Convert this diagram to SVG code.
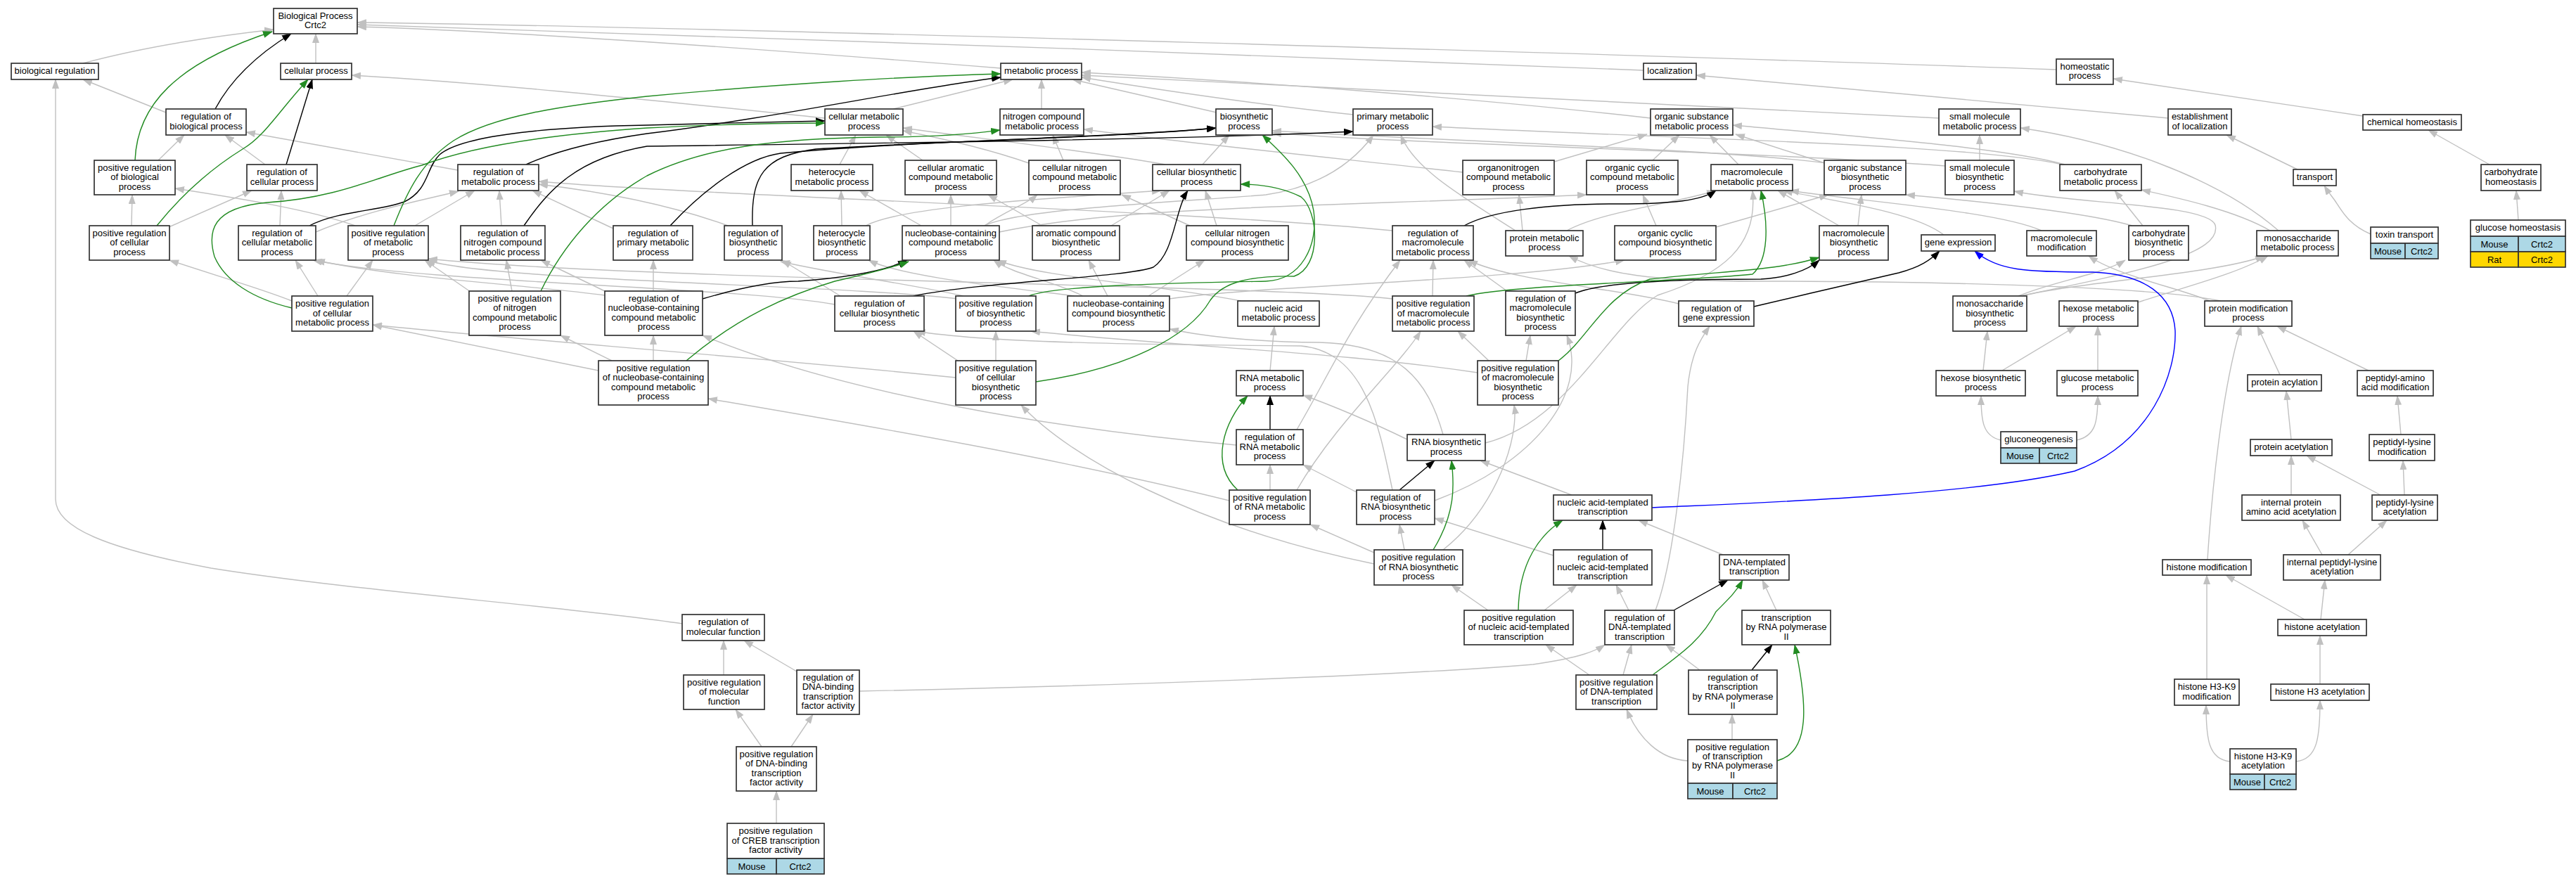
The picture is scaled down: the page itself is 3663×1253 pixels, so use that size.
<svg xmlns="http://www.w3.org/2000/svg" width="3663" height="1253" viewBox="0 0 3663 1253">
<style>
.bg{fill:#fff}
.n rect{fill:#fff;stroke:#333;stroke-width:1.7}
.n rect.mo{fill:#add8e6}
.n rect.rt{fill:#ffd700}
.n text{font-family:"Liberation Sans",Arial,sans-serif;font-size:13px;text-anchor:middle;fill:#000}
.e path{fill:none;stroke:#c0c0c0;stroke-width:1.4;marker-end:url(#ag)}
.e path.k{stroke:#000;marker-end:url(#ak)}
.e path.g{stroke:#228b22;marker-end:url(#agr)}
.e path.b{stroke:#0000ff;marker-end:url(#ab)}
</style>
<defs>
<marker id="ag" viewBox="0 0 14 10" refX="13" refY="5" markerWidth="14" markerHeight="10" markerUnits="userSpaceOnUse" orient="auto"><path d="M0,0L14,5L0,10z" fill="#c0c0c0"/></marker>
<marker id="ak" viewBox="0 0 14 10" refX="13" refY="5" markerWidth="14" markerHeight="10" markerUnits="userSpaceOnUse" orient="auto"><path d="M0,0L14,5L0,10z" fill="#000"/></marker>
<marker id="agr" viewBox="0 0 14 10" refX="13" refY="5" markerWidth="14" markerHeight="10" markerUnits="userSpaceOnUse" orient="auto"><path d="M0,0L14,5L0,10z" fill="#228b22"/></marker>
<marker id="ab" viewBox="0 0 14 10" refX="13" refY="5" markerWidth="14" markerHeight="10" markerUnits="userSpaceOnUse" orient="auto"><path d="M0,0L14,5L0,10z" fill="#0000ff"/></marker>
</defs>
<rect class="bg" x="0" y="0" width="3663" height="1253"/>
<g id="connectors" class="e">
<path d="M118,90 C200,68 300,52 389,42"/>
<path d="M449,90 L449,48"/>
<path d="M1423,97 C1150,75 750,45 508,38"/>
<path d="M2337,100 C1800,78 900,47 508,35"/>
<path d="M2924,99 C2400,80 1000,38 508,32"/>
<path d="M1173,168 C950,145 700,118 500,107"/>
<path d="M236,160 L118,113"/>
<path d="M970,887 C800,862 500,840 300,808 C150,780 79,750 79,710 L79,113"/>
<path d="M225,228 L262,192"/>
<path d="M377,234 L320,192"/>
<path d="M651,242 L350,188"/>
<path d="M187,321 L188,277"/>
<path d="M505,321 C440,298 340,282 249,268"/>
<path d="M240,323 L358,271"/>
<path d="M398,321 L400,271"/>
<path d="M449,330 C520,300 600,285 652,272"/>
<path d="M590,321 L675,271"/>
<path d="M713,321 L710,271"/>
<path d="M872,325 L757,271"/>
<path d="M1035,321 C950,290 850,272 766,262"/>
<path d="M1980,328 C1700,300 1000,278 766,258"/>
<path d="M1194,234 L1217,192"/>
<path d="M1312,228 L1260,192"/>
<path d="M1463,232 C1400,210 1330,195 1284,186"/>
<path d="M1657,234 C1550,215 1400,198 1284,182"/>
<path d="M1270,155 L1440,113"/>
<path d="M1481,155 L1481,113"/>
<path d="M1730,160 L1525,113"/>
<path d="M1512,228 L1497,192"/>
<path d="M2080,245 C1900,225 1700,205 1541,184"/>
<path d="M1710,234 L1748,192"/>
<path d="M2596,232 C2450,212 2000,198 1809,186"/>
<path d="M2766,236 C2500,215 2000,205 1809,189"/>
<path d="M1400,321 C1450,296 1700,286 1800,277 C1880,265 1925,230 1953,192"/>
<path d="M2155,328 C2080,280 2010,240 1992,192"/>
<path d="M1924,163 C1800,150 1650,128 1538,110"/>
<path d="M2347,168 C2100,140 1800,117 1538,103"/>
<path d="M2757,168 C2400,150 2000,130 1538,107"/>
<path d="M3083,168 C2900,150 2600,125 2412,107"/>
<path d="M2933,234 C2800,205 2400,198 2037,180"/>
<path d="M2936,234 C2850,210 2650,195 2464,178"/>
<path d="M2210,230 L2342,191"/>
<path d="M2350,228 L2388,192"/>
<path d="M2472,234 L2431,192"/>
<path d="M2595,232 L2468,191"/>
<path d="M2815,228 L2815,192"/>
<path d="M3047,321 L3007,271"/>
<path d="M3228,328 C3180,300 3100,282 3045,270"/>
<path d="M3240,328 C3150,250 3000,200 2873,182"/>
<path d="M2872,421 C3050,385 3160,360 3150,320 C3140,290 2950,290 2864,272"/>
<path d="M2870,421 C2920,400 2990,390 3022,370"/>
<path d="M2875,421 C2960,400 3150,390 3220,364"/>
<path d="M3040,430 C3100,410 3180,390 3225,364"/>
<path d="M3032,321 C2960,300 2800,285 2710,277"/>
<path d="M2764,334 C2720,300 2600,285 2536,271"/>
<path d="M2903,328 C2840,300 2650,287 2545,271"/>
<path d="M2615,321 L2528,271"/>
<path d="M2642,321 L2647,277"/>
<path d="M2440,323 L2600,277"/>
<path d="M2355,321 L2336,277"/>
<path d="M1421,330 C1600,292 1900,294 2256,277"/>
<path d="M3142,428 C3100,410 3010,392 2970,364"/>
<path d="M3158,428 C3050,405 2700,400 2500,400 C2350,400 2280,390 2231,364"/>
<path d="M2165,328 L2160,277"/>
<path d="M2228,328 C2280,300 2380,290 2440,271"/>
<path d="M3360,165 L3005,112"/>
<path d="M3540,234 L3453,185"/>
<path d="M3581,313 L3578,271"/>
<path d="M3371,333 C3340,320 3330,300 3320,285 C3315,278 3310,272 3305,264"/>
<path d="M3267,241 L3166,192"/>
<path d="M415,428 C370,410 300,390 241,370"/>
<path d="M452,421 L420,370"/>
<path d="M493,421 L530,370"/>
<path d="M669,415 L604,370"/>
<path d="M728,414 L720,370"/>
<path d="M862,415 L769,370"/>
<path d="M929,414 L929,370"/>
<path d="M860,420 C750,405 560,395 449,370"/>
<path d="M1187,433 C1050,408 600,402 445,370"/>
<path d="M1362,425 C1200,405 700,400 606,370"/>
<path d="M1980,425 C1800,405 900,398 609,368"/>
<path d="M1195,421 L1112,370"/>
<path d="M1370,421 C1300,405 1200,392 1110,372"/>
<path d="M1540,421 C1500,400 1440,390 1413,370"/>
<path d="M1765,428 C1650,405 1480,395 1418,370"/>
<path d="M1528,421 C1400,405 1280,392 1235,370"/>
<path d="M1575,421 L1548,370"/>
<path d="M1633,421 L1713,370"/>
<path d="M1663,425 C1800,405 2150,400 2310,370"/>
<path d="M1197,321 L1196,271"/>
<path d="M1310,321 L1222,271"/>
<path d="M1352,321 L1352,277"/>
<path d="M1400,321 C1430,300 1460,290 1475,277"/>
<path d="M1482,321 L1405,277"/>
<path d="M1692,321 L1595,277"/>
<path d="M1231,321 C1280,295 1450,285 1651,271"/>
<path d="M1580,321 L1663,271"/>
<path d="M1730,321 L1714,271"/>
<path d="M1362,513 L1299,471"/>
<path d="M1416,513 L1416,471"/>
<path d="M1359,537 C1100,510 700,480 530,462"/>
<path d="M851,527 L530,462"/>
<path d="M929,513 L929,477"/>
<path d="M870,513 L797,477"/>
<path d="M1758,633 C1500,610 1200,560 999,477"/>
<path d="M1748,712 C1500,650 1200,600 1007,567"/>
<path d="M2101,530 C1900,500 1700,495 1466,471"/>
<path d="M2052,618 C2030,540 1990,490 1876,487 C1800,487 1720,480 1663,468"/>
<path d="M2001,625 C1950,600 1890,575 1853,562"/>
<path d="M1806,527 L1812,464"/>
<path d="M1806,697 L1806,661"/>
<path d="M1954,802 C1700,750 1520,650 1452,576"/>
<path d="M1844,697 C1900,600 1990,520 2020,471"/>
<path d="M2117,513 L2073,471"/>
<path d="M2037,421 L2038,370"/>
<path d="M1844,611 C1890,533 1917,467 1991,370"/>
<path d="M1980,697 C1960,600 1940,500 1850,492 C1600,490 1400,487 1303,471"/>
<path d="M2143,414 L2082,370"/>
<path d="M2387,432 C2300,410 2150,400 2088,370"/>
<path d="M2170,513 L2176,477"/>
<path d="M2040,712 C2180,660 2260,560 2228,477"/>
<path d="M2052,782 C2130,720 2160,620 2153,576"/>
<path d="M1997,782 L1990,746"/>
<path d="M1929,700 L1853,661"/>
<path d="M1954,786 L1863,746"/>
<path d="M2235,704 L2105,655"/>
<path d="M2112,630 C2230,600 2290,460 2357,420 C2450,390 2500,350 2492,271"/>
<path d="M2450,789 L2330,740"/>
<path d="M2209,790 L2040,737"/>
<path d="M2116,868 L2064,832"/>
<path d="M2196,868 L2242,832"/>
<path d="M2316,868 L2298,832"/>
<path d="M2526,868 L2506,825"/>
<path d="M2354,868 C2380,800 2395,650 2400,550 C2405,500 2420,480 2431,464"/>
<path d="M2260,960 L2198,917"/>
<path d="M2308,960 L2320,917"/>
<path d="M2417,953 L2369,917"/>
<path d="M2463,1052 L2463,1016"/>
<path d="M2400,1082 C2360,1080 2330,1050 2313,1009"/>
<path d="M1222,983 C1600,975 2000,960 2180,945 C2250,935 2270,925 2282,917"/>
<path d="M1029,960 L1029,911"/>
<path d="M1133,955 L1058,911"/>
<path d="M1083,1062 L1046,1009"/>
<path d="M1125,1062 L1156,1016"/>
<path d="M1104,1171 L1104,1125"/>
<path d="M2820,527 L2826,471"/>
<path d="M2847,527 L2952,464"/>
<path d="M2983,527 L2983,464"/>
<path d="M2845,626 C2820,620 2817,600 2817,563"/>
<path d="M2953,626 C2980,620 2983,600 2983,563"/>
<path d="M3242,533 L3210,464"/>
<path d="M3368,527 L3238,464"/>
<path d="M3139,796 C3145,700 3160,550 3187,464"/>
<path d="M3258,625 L3251,556"/>
<path d="M3414,618 L3409,563"/>
<path d="M3258,704 L3258,648"/>
<path d="M3385,704 L3280,648"/>
<path d="M3419,704 L3417,655"/>
<path d="M3302,789 L3274,740"/>
<path d="M3339,789 L3394,740"/>
<path d="M3277,881 L3165,818"/>
<path d="M3300,881 L3306,825"/>
<path d="M3138,966 L3138,818"/>
<path d="M3299,973 L3299,904"/>
<path d="M3171,1083 C3140,1080 3137,1050 3137,1003"/>
<path d="M3265,1083 C3295,1080 3299,1050 3299,996"/>
<path class="k" d="M306,155 C330,110 370,75 414,48"/>
<path class="k" d="M407,234 L444,113"/>
<path class="k" d="M440,321 C480,300 540,300 575,287 C610,270 605,240 625,220 C660,190 800,180 920,178 C1000,176 1100,173 1173,172"/>
<path class="k" d="M748,234 C790,215 850,200 920,190 C1100,168 1300,125 1423,110"/>
<path class="k" d="M745,321 C780,270 820,225 920,208 C1300,203 1700,198 1924,187"/>
<path class="k" d="M953,321 C1000,270 1060,225 1110,218 C1300,200 1600,195 1729,182"/>
<path class="k" d="M1070,321 C1068,250 1085,222 1160,212 C1350,200 1600,195 1729,182"/>
<path class="k" d="M999,425 C1050,410 1100,400 1135,400 C1200,395 1260,385 1290,370"/>
<path class="k" d="M1299,421 C1400,400 1600,395 1640,380 C1670,360 1670,300 1689,271"/>
<path class="k" d="M2082,321 C2120,300 2200,290 2300,290 C2380,290 2420,285 2440,271"/>
<path class="k" d="M2240,417 C2280,400 2400,397 2504,397 C2540,395 2570,385 2587,370"/>
<path class="k" d="M2494,436 C2560,420 2650,400 2700,388 C2730,380 2745,370 2758,357"/>
<path class="k" d="M1806,611 L1806,563"/>
<path class="k" d="M1990,697 L2040,655"/>
<path class="k" d="M2279,782 L2279,740"/>
<path class="k" d="M2380,868 L2457,825"/>
<path class="k" d="M2491,953 L2520,917"/>
<path class="g" d="M192,228 C195,150 250,90 387,45"/>
<path class="g" d="M223,321 C260,275 300,240 345,212 C375,195 395,160 438,113"/>
<path class="g" d="M415,438 C360,425 320,400 305,365 C295,330 300,295 380,288 C480,282 540,250 600,235 C680,205 800,190 920,182 C1000,178 1100,175 1173,175"/>
<path class="g" d="M560,321 C580,270 600,230 645,200 C700,165 800,150 920,137 C1100,120 1300,108 1423,105"/>
<path class="g" d="M769,414 C800,350 850,290 920,250 C1000,210 1100,197 1250,195 C1350,195 1400,188 1422,185"/>
<path class="g" d="M976,513 C1050,450 1120,420 1187,400 C1230,390 1270,380 1292,372"/>
<path class="g" d="M1463,421 C1500,405 1700,402 1800,400 C1850,398 1875,350 1868,300 C1860,250 1820,215 1795,192"/>
<path class="g" d="M1473,543 C1600,525 1690,480 1721,427 C1740,400 1780,392 1840,393 C1880,380 1875,300 1850,280 C1820,265 1790,262 1764,262"/>
<path class="g" d="M2085,421 C2150,405 2400,400 2492,390 C2515,370 2515,320 2504,271"/>
<path class="g" d="M2216,513 C2260,480 2280,420 2346,397 C2450,385 2530,385 2587,366"/>
<path class="g" d="M1760,697 C1720,660 1740,600 1774,563"/>
<path class="g" d="M2038,782 C2070,730 2068,690 2064,655"/>
<path class="g" d="M2159,868 C2160,800 2190,760 2222,740"/>
<path class="g" d="M2350,960 C2390,930 2420,910 2440,870 C2460,850 2470,840 2478,825"/>
<path class="g" d="M2527,1082 C2575,1070 2570,1000 2552,917"/>
<path class="b" d="M2349,722 C2500,715 2800,705 2950,670 C3060,630 3095,530 3093,470 C3090,420 3050,390 2976,387 C2880,387 2840,385 2808,357"/>
</g>
<g id="nodes" class="n">
<g id="n-BP"><rect x="389" y="12" width="119" height="36"/><text><tspan x="448.5" y="26.9">Biological Process</tspan><tspan x="448.5" y="40.3">Crtc2</tspan></text></g>
<g id="n-BR"><rect x="16" y="90" width="124" height="23"/><text x="78" y="105.1">biological regulation</text></g>
<g id="n-CP"><rect x="399" y="90" width="101" height="23"/><text x="449.5" y="105.1">cellular process</text></g>
<g id="n-MP"><rect x="1423" y="90" width="115" height="23"/><text x="1480.5" y="105.1">metabolic process</text></g>
<g id="n-LOC"><rect x="2337" y="90" width="75" height="23"/><text x="2374.5" y="105.1">localization</text></g>
<g id="n-HP"><rect x="2924" y="84" width="81" height="36"/><text><tspan x="2964.5" y="98.9">homeostatic</tspan><tspan x="2964.5" y="112.3">process</tspan></text></g>
<g id="n-RBP"><rect x="236" y="155" width="114" height="37"/><text><tspan x="293" y="170.4">regulation of</tspan><tspan x="293" y="183.8">biological process</tspan></text></g>
<g id="n-CMP"><rect x="1173" y="155" width="111" height="37"/><text><tspan x="1228.5" y="170.4">cellular metabolic</tspan><tspan x="1228.5" y="183.8">process</tspan></text></g>
<g id="n-NCMP"><rect x="1422" y="155" width="119" height="37"/><text><tspan x="1481.5" y="170.4">nitrogen compound</tspan><tspan x="1481.5" y="183.8">metabolic process</tspan></text></g>
<g id="n-BSP"><rect x="1729" y="155" width="80" height="37"/><text><tspan x="1769" y="170.4">biosynthetic</tspan><tspan x="1769" y="183.8">process</tspan></text></g>
<g id="n-PMP"><rect x="1924" y="155" width="113" height="37"/><text><tspan x="1980.5" y="170.4">primary metabolic</tspan><tspan x="1980.5" y="183.8">process</tspan></text></g>
<g id="n-OSMP"><rect x="2347" y="155" width="117" height="37"/><text><tspan x="2405.5" y="170.4">organic substance</tspan><tspan x="2405.5" y="183.8">metabolic process</tspan></text></g>
<g id="n-SMMP"><rect x="2757" y="155" width="116" height="37"/><text><tspan x="2815" y="170.4">small molecule</tspan><tspan x="2815" y="183.8">metabolic process</tspan></text></g>
<g id="n-EOL"><rect x="3083" y="155" width="90" height="37"/><text><tspan x="3128" y="170.4">establishment</tspan><tspan x="3128" y="183.8">of localization</tspan></text></g>
<g id="n-CH"><rect x="3360" y="163" width="140" height="22"/><text x="3430" y="177.6">chemical homeostasis</text></g>
<g id="n-PRBP"><rect x="134" y="228" width="115" height="49"/><text><tspan x="191.5" y="242.7">positive regulation</tspan><tspan x="191.5" y="256.1">of biological</tspan><tspan x="191.5" y="269.5">process</tspan></text></g>
<g id="n-RCP"><rect x="351" y="234" width="100" height="37"/><text><tspan x="401" y="249.4">regulation of</tspan><tspan x="401" y="262.8">cellular process</tspan></text></g>
<g id="n-RMP"><rect x="651" y="234" width="115" height="37"/><text><tspan x="708.5" y="249.4">regulation of</tspan><tspan x="708.5" y="262.8">metabolic process</tspan></text></g>
<g id="n-HMP"><rect x="1125" y="234" width="116" height="37"/><text><tspan x="1183" y="249.4">heterocycle</tspan><tspan x="1183" y="262.8">metabolic process</tspan></text></g>
<g id="n-CACMP"><rect x="1287" y="228" width="130" height="49"/><text><tspan x="1352" y="242.7">cellular aromatic</tspan><tspan x="1352" y="256.1">compound metabolic</tspan><tspan x="1352" y="269.5">process</tspan></text></g>
<g id="n-CNCMP"><rect x="1463" y="228" width="130" height="49"/><text><tspan x="1528" y="242.7">cellular nitrogen</tspan><tspan x="1528" y="256.1">compound metabolic</tspan><tspan x="1528" y="269.5">process</tspan></text></g>
<g id="n-CBP"><rect x="1639" y="234" width="125" height="37"/><text><tspan x="1701.5" y="249.4">cellular biosynthetic</tspan><tspan x="1701.5" y="262.8">process</tspan></text></g>
<g id="n-ONCMP"><rect x="2080" y="228" width="130" height="49"/><text><tspan x="2145" y="242.7">organonitrogen</tspan><tspan x="2145" y="256.1">compound metabolic</tspan><tspan x="2145" y="269.5">process</tspan></text></g>
<g id="n-OCCMP"><rect x="2256" y="228" width="130" height="49"/><text><tspan x="2321" y="242.7">organic cyclic</tspan><tspan x="2321" y="256.1">compound metabolic</tspan><tspan x="2321" y="269.5">process</tspan></text></g>
<g id="n-MMP"><rect x="2433" y="234" width="116" height="37"/><text><tspan x="2491" y="249.4">macromolecule</tspan><tspan x="2491" y="262.8">metabolic process</tspan></text></g>
<g id="n-OSBP"><rect x="2594" y="228" width="116" height="49"/><text><tspan x="2652" y="242.7">organic substance</tspan><tspan x="2652" y="256.1">biosynthetic</tspan><tspan x="2652" y="269.5">process</tspan></text></g>
<g id="n-SMBP"><rect x="2766" y="228" width="98" height="49"/><text><tspan x="2815" y="242.7">small molecule</tspan><tspan x="2815" y="256.1">biosynthetic</tspan><tspan x="2815" y="269.5">process</tspan></text></g>
<g id="n-CHMP"><rect x="2929" y="234" width="116" height="37"/><text><tspan x="2987" y="249.4">carbohydrate</tspan><tspan x="2987" y="262.8">metabolic process</tspan></text></g>
<g id="n-TR"><rect x="3261" y="241" width="61" height="23"/><text x="3291.5" y="256.1">transport</text></g>
<g id="n-CHH"><rect x="3528" y="234" width="85" height="37"/><text><tspan x="3570.5" y="249.4">carbohydrate</tspan><tspan x="3570.5" y="262.8">homeostasis</tspan></text></g>
<g id="n-PRCP"><rect x="127" y="321" width="114" height="49"/><text><tspan x="184" y="335.7">positive regulation</tspan><tspan x="184" y="349.1">of cellular</tspan><tspan x="184" y="362.5">process</tspan></text></g>
<g id="n-RCMP"><rect x="339" y="321" width="110" height="49"/><text><tspan x="394" y="335.7">regulation of</tspan><tspan x="394" y="349.1">cellular metabolic</tspan><tspan x="394" y="362.5">process</tspan></text></g>
<g id="n-PRMP"><rect x="495" y="321" width="114" height="49"/><text><tspan x="552" y="335.7">positive regulation</tspan><tspan x="552" y="349.1">of metabolic</tspan><tspan x="552" y="362.5">process</tspan></text></g>
<g id="n-RNCMP"><rect x="655" y="321" width="120" height="49"/><text><tspan x="715" y="335.7">regulation of</tspan><tspan x="715" y="349.1">nitrogen compound</tspan><tspan x="715" y="362.5">metabolic process</tspan></text></g>
<g id="n-RPMP"><rect x="872" y="321" width="113" height="49"/><text><tspan x="928.5" y="335.7">regulation of</tspan><tspan x="928.5" y="349.1">primary metabolic</tspan><tspan x="928.5" y="362.5">process</tspan></text></g>
<g id="n-RBSP"><rect x="1030" y="321" width="82" height="49"/><text><tspan x="1071" y="335.7">regulation of</tspan><tspan x="1071" y="349.1">biosynthetic</tspan><tspan x="1071" y="362.5">process</tspan></text></g>
<g id="n-HBP"><rect x="1157" y="321" width="80" height="49"/><text><tspan x="1197" y="335.7">heterocycle</tspan><tspan x="1197" y="349.1">biosynthetic</tspan><tspan x="1197" y="362.5">process</tspan></text></g>
<g id="n-NCCMP"><rect x="1283" y="321" width="138" height="49"/><text><tspan x="1352" y="335.7">nucleobase-containing</tspan><tspan x="1352" y="349.1">compound metabolic</tspan><tspan x="1352" y="362.5">process</tspan></text></g>
<g id="n-ACBP"><rect x="1468" y="321" width="124" height="49"/><text><tspan x="1530" y="335.7">aromatic compound</tspan><tspan x="1530" y="349.1">biosynthetic</tspan><tspan x="1530" y="362.5">process</tspan></text></g>
<g id="n-CNCBP"><rect x="1687" y="321" width="145" height="49"/><text><tspan x="1759.5" y="335.7">cellular nitrogen</tspan><tspan x="1759.5" y="349.1">compound biosynthetic</tspan><tspan x="1759.5" y="362.5">process</tspan></text></g>
<g id="n-RMMP"><rect x="1980" y="321" width="115" height="49"/><text><tspan x="2037.5" y="335.7">regulation of</tspan><tspan x="2037.5" y="349.1">macromolecule</tspan><tspan x="2037.5" y="362.5">metabolic process</tspan></text></g>
<g id="n-PRMETP"><rect x="2141" y="328" width="110" height="36"/><text><tspan x="2196" y="342.9">protein metabolic</tspan><tspan x="2196" y="356.3">process</tspan></text></g>
<g id="n-OCCBP"><rect x="2296" y="321" width="144" height="49"/><text><tspan x="2368" y="335.7">organic cyclic</tspan><tspan x="2368" y="349.1">compound biosynthetic</tspan><tspan x="2368" y="362.5">process</tspan></text></g>
<g id="n-MBP"><rect x="2587" y="321" width="98" height="49"/><text><tspan x="2636" y="335.7">macromolecule</tspan><tspan x="2636" y="349.1">biosynthetic</tspan><tspan x="2636" y="362.5">process</tspan></text></g>
<g id="n-GE"><rect x="2732" y="334" width="105" height="23"/><text x="2784.5" y="349.1">gene expression</text></g>
<g id="n-MM"><rect x="2882" y="328" width="99" height="36"/><text><tspan x="2931.5" y="342.9">macromolecule</tspan><tspan x="2931.5" y="356.3">modification</tspan></text></g>
<g id="n-CHBP"><rect x="3027" y="321" width="85" height="49"/><text><tspan x="3069.5" y="335.7">carbohydrate</tspan><tspan x="3069.5" y="349.1">biosynthetic</tspan><tspan x="3069.5" y="362.5">process</tspan></text></g>
<g id="n-MSMP"><rect x="3209" y="328" width="116" height="36"/><text><tspan x="3267" y="342.9">monosaccharide</tspan><tspan x="3267" y="356.3">metabolic process</tspan></text></g>
<g id="n-TT"><rect x="3371" y="323" width="96" height="23"/><rect class="mo" x="3371" y="346" width="49" height="22"/><rect class="mo" x="3420" y="346" width="47" height="22"/><text x="3419" y="338.1">toxin transport</text><text x="3395.5" y="361.5">Mouse</text><text x="3443.5" y="361.5">Crtc2</text></g>
<g id="n-GH"><rect x="3513" y="313" width="135" height="23"/><rect class="mo" x="3513" y="336" width="68" height="22"/><rect class="mo" x="3581" y="336" width="67" height="22"/><rect class="rt" x="3513" y="358" width="68" height="22"/><rect class="rt" x="3581" y="358" width="67" height="22"/><text x="3580.5" y="328.1">glucose homeostasis</text><text x="3547" y="351.5">Mouse</text><text x="3614.5" y="351.5">Crtc2</text><text x="3547" y="373.5">Rat</text><text x="3614.5" y="373.5">Crtc2</text></g>
<g id="n-PRCMP"><rect x="415" y="421" width="115" height="50"/><text><tspan x="472.5" y="436.2">positive regulation</tspan><tspan x="472.5" y="449.6">of cellular</tspan><tspan x="472.5" y="463">metabolic process</tspan></text></g>
<g id="n-PRNCMP"><rect x="667" y="414" width="130" height="63"/><text><tspan x="732" y="429">positive regulation</tspan><tspan x="732" y="442.4">of nitrogen</tspan><tspan x="732" y="455.8">compound metabolic</tspan><tspan x="732" y="469.2">process</tspan></text></g>
<g id="n-RNCCMP"><rect x="860" y="414" width="139" height="63"/><text><tspan x="929.5" y="429">regulation of</tspan><tspan x="929.5" y="442.4">nucleobase-containing</tspan><tspan x="929.5" y="455.8">compound metabolic</tspan><tspan x="929.5" y="469.2">process</tspan></text></g>
<g id="n-RCBP"><rect x="1187" y="421" width="127" height="50"/><text><tspan x="1250.5" y="436.2">regulation of</tspan><tspan x="1250.5" y="449.6">cellular biosynthetic</tspan><tspan x="1250.5" y="463">process</tspan></text></g>
<g id="n-PRBSP"><rect x="1359" y="421" width="114" height="50"/><text><tspan x="1416" y="436.2">positive regulation</tspan><tspan x="1416" y="449.6">of biosynthetic</tspan><tspan x="1416" y="463">process</tspan></text></g>
<g id="n-NCCBP"><rect x="1518" y="421" width="145" height="50"/><text><tspan x="1590.5" y="436.2">nucleobase-containing</tspan><tspan x="1590.5" y="449.6">compound biosynthetic</tspan><tspan x="1590.5" y="463">process</tspan></text></g>
<g id="n-NAMP"><rect x="1760" y="428" width="116" height="36"/><text><tspan x="1818" y="442.9">nucleic acid</tspan><tspan x="1818" y="456.3">metabolic process</tspan></text></g>
<g id="n-PRMMP"><rect x="1980" y="421" width="116" height="50"/><text><tspan x="2038" y="436.2">positive regulation</tspan><tspan x="2038" y="449.6">of macromolecule</tspan><tspan x="2038" y="463">metabolic process</tspan></text></g>
<g id="n-RMBP"><rect x="2141" y="414" width="99" height="63"/><text><tspan x="2190.5" y="429">regulation of</tspan><tspan x="2190.5" y="442.4">macromolecule</tspan><tspan x="2190.5" y="455.8">biosynthetic</tspan><tspan x="2190.5" y="469.2">process</tspan></text></g>
<g id="n-RGE"><rect x="2387" y="428" width="107" height="36"/><text><tspan x="2440.5" y="442.9">regulation of</tspan><tspan x="2440.5" y="456.3">gene expression</tspan></text></g>
<g id="n-MSBP"><rect x="2777" y="421" width="105" height="50"/><text><tspan x="2829.5" y="436.2">monosaccharide</tspan><tspan x="2829.5" y="449.6">biosynthetic</tspan><tspan x="2829.5" y="463">process</tspan></text></g>
<g id="n-HXMP"><rect x="2928" y="428" width="112" height="36"/><text><tspan x="2984" y="442.9">hexose metabolic</tspan><tspan x="2984" y="456.3">process</tspan></text></g>
<g id="n-PMOD"><rect x="3135" y="428" width="124" height="36"/><text><tspan x="3197" y="442.9">protein modification</tspan><tspan x="3197" y="456.3">process</tspan></text></g>
<g id="n-PRNCCMP"><rect x="851" y="513" width="156" height="63"/><text><tspan x="929" y="528">positive regulation</tspan><tspan x="929" y="541.4">of nucleobase-containing</tspan><tspan x="929" y="554.8">compound metabolic</tspan><tspan x="929" y="568.2">process</tspan></text></g>
<g id="n-PRCBP"><rect x="1359" y="513" width="114" height="63"/><text><tspan x="1416" y="528">positive regulation</tspan><tspan x="1416" y="541.4">of cellular</tspan><tspan x="1416" y="554.8">biosynthetic</tspan><tspan x="1416" y="568.2">process</tspan></text></g>
<g id="n-PRMBP"><rect x="2101" y="513" width="115" height="63"/><text><tspan x="2158.5" y="528">positive regulation</tspan><tspan x="2158.5" y="541.4">of macromolecule</tspan><tspan x="2158.5" y="554.8">biosynthetic</tspan><tspan x="2158.5" y="568.2">process</tspan></text></g>
<g id="n-RNAMP"><rect x="1758" y="527" width="95" height="36"/><text><tspan x="1805.5" y="541.9">RNA metabolic</tspan><tspan x="1805.5" y="555.3">process</tspan></text></g>
<g id="n-HXBP"><rect x="2753" y="527" width="127" height="36"/><text><tspan x="2816.5" y="541.9">hexose biosynthetic</tspan><tspan x="2816.5" y="555.3">process</tspan></text></g>
<g id="n-GMP"><rect x="2925" y="527" width="115" height="36"/><text><tspan x="2982.5" y="541.9">glucose metabolic</tspan><tspan x="2982.5" y="555.3">process</tspan></text></g>
<g id="n-PACY"><rect x="3196" y="533" width="105" height="23"/><text x="3248.5" y="548.1">protein acylation</text></g>
<g id="n-PAAM"><rect x="3352" y="527" width="108" height="36"/><text><tspan x="3406" y="541.9">peptidyl-amino</tspan><tspan x="3406" y="555.3">acid modification</tspan></text></g>
<g id="n-RRNAMP"><rect x="1758" y="611" width="95" height="50"/><text><tspan x="1805.5" y="626.2">regulation of</tspan><tspan x="1805.5" y="639.6">RNA metabolic</tspan><tspan x="1805.5" y="653">process</tspan></text></g>
<g id="n-RNABP"><rect x="2001" y="618" width="111" height="37"/><text><tspan x="2056.5" y="633.4">RNA biosynthetic</tspan><tspan x="2056.5" y="646.8">process</tspan></text></g>
<g id="n-GNG"><rect x="2845" y="614" width="108" height="23"/><rect class="mo" x="2845" y="637" width="55" height="22"/><rect class="mo" x="2900" y="637" width="53" height="22"/><text x="2899" y="629.1">gluconeogenesis</text><text x="2872.5" y="652.5">Mouse</text><text x="2926.5" y="652.5">Crtc2</text></g>
<g id="n-PACE"><rect x="3200" y="625" width="116" height="23"/><text x="3258" y="640.1">protein acetylation</text></g>
<g id="n-PLM"><rect x="3369" y="618" width="93" height="37"/><text><tspan x="3415.5" y="633.4">peptidyl-lysine</tspan><tspan x="3415.5" y="646.8">modification</tspan></text></g>
<g id="n-PRRNAMP"><rect x="1748" y="697" width="115" height="49"/><text><tspan x="1805.5" y="711.7">positive regulation</tspan><tspan x="1805.5" y="725.1">of RNA metabolic</tspan><tspan x="1805.5" y="738.5">process</tspan></text></g>
<g id="n-RRNABP"><rect x="1929" y="697" width="111" height="49"/><text><tspan x="1984.5" y="711.7">regulation of</tspan><tspan x="1984.5" y="725.1">RNA biosynthetic</tspan><tspan x="1984.5" y="738.5">process</tspan></text></g>
<g id="n-NATT"><rect x="2209" y="704" width="140" height="36"/><text><tspan x="2279" y="718.9">nucleic acid-templated</tspan><tspan x="2279" y="732.3">transcription</tspan></text></g>
<g id="n-IPAAA"><rect x="3188" y="704" width="140" height="36"/><text><tspan x="3258" y="718.9">internal protein</tspan><tspan x="3258" y="732.3">amino acid acetylation</tspan></text></g>
<g id="n-PLA"><rect x="3373" y="704" width="93" height="36"/><text><tspan x="3419.5" y="718.9">peptidyl-lysine</tspan><tspan x="3419.5" y="732.3">acetylation</tspan></text></g>
<g id="n-PRRNABP"><rect x="1954" y="782" width="126" height="50"/><text><tspan x="2017" y="797.2">positive regulation</tspan><tspan x="2017" y="810.6">of RNA biosynthetic</tspan><tspan x="2017" y="824">process</tspan></text></g>
<g id="n-RNATT"><rect x="2209" y="782" width="140" height="50"/><text><tspan x="2279" y="797.2">regulation of</tspan><tspan x="2279" y="810.6">nucleic acid-templated</tspan><tspan x="2279" y="824">transcription</tspan></text></g>
<g id="n-DTT"><rect x="2445" y="789" width="99" height="36"/><text><tspan x="2494.5" y="803.9">DNA-templated</tspan><tspan x="2494.5" y="817.3">transcription</tspan></text></g>
<g id="n-HMOD"><rect x="3075" y="796" width="126" height="22"/><text x="3138" y="810.6">histone modification</text></g>
<g id="n-IPLA"><rect x="3247" y="789" width="138" height="36"/><text><tspan x="3316" y="803.9">internal peptidyl-lysine</tspan><tspan x="3316" y="817.3">acetylation</tspan></text></g>
<g id="n-PRNATT"><rect x="2082" y="868" width="155" height="49"/><text><tspan x="2159.5" y="882.7">positive regulation</tspan><tspan x="2159.5" y="896.1">of nucleic acid-templated</tspan><tspan x="2159.5" y="909.5">transcription</tspan></text></g>
<g id="n-RDTT"><rect x="2282" y="868" width="99" height="49"/><text><tspan x="2331.5" y="882.7">regulation of</tspan><tspan x="2331.5" y="896.1">DNA-templated</tspan><tspan x="2331.5" y="909.5">transcription</tspan></text></g>
<g id="n-TRP2"><rect x="2477" y="868" width="126" height="49"/><text><tspan x="2540" y="882.7">transcription</tspan><tspan x="2540" y="896.1">by RNA polymerase</tspan><tspan x="2540" y="909.5">II</tspan></text></g>
<g id="n-RMF"><rect x="970" y="874" width="117" height="37"/><text><tspan x="1028.5" y="889.4">regulation of</tspan><tspan x="1028.5" y="902.8">molecular function</tspan></text></g>
<g id="n-HACE"><rect x="3239" y="881" width="126" height="23"/><text x="3302" y="896.1">histone acetylation</text></g>
<g id="n-PRMF"><rect x="972" y="960" width="115" height="49"/><text><tspan x="1029.5" y="974.7">positive regulation</tspan><tspan x="1029.5" y="988.1">of molecular</tspan><tspan x="1029.5" y="1001.5">function</tspan></text></g>
<g id="n-PRDTT"><rect x="2241" y="960" width="115" height="49"/><text><tspan x="2298.5" y="974.7">positive regulation</tspan><tspan x="2298.5" y="988.1">of DNA-templated</tspan><tspan x="2298.5" y="1001.5">transcription</tspan></text></g>
<g id="n-RDBTF"><rect x="1133" y="953" width="89" height="63"/><text><tspan x="1177.5" y="968">regulation of</tspan><tspan x="1177.5" y="981.4">DNA-binding</tspan><tspan x="1177.5" y="994.8">transcription</tspan><tspan x="1177.5" y="1008.2">factor activity</tspan></text></g>
<g id="n-RTRP2"><rect x="2401" y="953" width="126" height="63"/><text><tspan x="2464" y="968">regulation of</tspan><tspan x="2464" y="981.4">transcription</tspan><tspan x="2464" y="994.8">by RNA polymerase</tspan><tspan x="2464" y="1008.2">II</tspan></text></g>
<g id="n-HH3K9M"><rect x="3092" y="966" width="92" height="37"/><text><tspan x="3138" y="981.4">histone H3-K9</tspan><tspan x="3138" y="994.8">modification</tspan></text></g>
<g id="n-HH3A"><rect x="3229" y="973" width="140" height="23"/><text x="3299" y="988.1">histone H3 acetylation</text></g>
<g id="n-PRDBTF"><rect x="1047" y="1062" width="114" height="63"/><text><tspan x="1104" y="1077">positive regulation</tspan><tspan x="1104" y="1090.4">of DNA-binding</tspan><tspan x="1104" y="1103.8">transcription</tspan><tspan x="1104" y="1117.2">factor activity</tspan></text></g>
<g id="n-PRTRP2"><rect x="2400" y="1052" width="127" height="62"/><rect class="mo" x="2400" y="1114" width="64" height="22"/><rect class="mo" x="2464" y="1114" width="63" height="22"/><text><tspan x="2463.5" y="1066.5">positive regulation</tspan><tspan x="2463.5" y="1079.9">of transcription</tspan><tspan x="2463.5" y="1093.3">by RNA polymerase</tspan><tspan x="2463.5" y="1106.7">II</tspan></text><text x="2432" y="1129.5">Mouse</text><text x="2495.5" y="1129.5">Crtc2</text></g>
<g id="n-HH3K9A"><rect x="3171" y="1065" width="94" height="36"/><rect class="mo" x="3171" y="1101" width="49" height="22"/><rect class="mo" x="3220" y="1101" width="45" height="22"/><text><tspan x="3218" y="1079.9">histone H3-K9</tspan><tspan x="3218" y="1093.3">acetylation</tspan></text><text x="3195.5" y="1116.5">Mouse</text><text x="3242.5" y="1116.5">Crtc2</text></g>
<g id="n-PRCREB"><rect x="1034" y="1171" width="138" height="50"/><rect class="mo" x="1034" y="1221" width="70" height="22"/><rect class="mo" x="1104" y="1221" width="68" height="22"/><text><tspan x="1103" y="1186.2">positive regulation</tspan><tspan x="1103" y="1199.6">of CREB transcription</tspan><tspan x="1103" y="1213">factor activity</tspan></text><text x="1069" y="1236.5">Mouse</text><text x="1138" y="1236.5">Crtc2</text></g>
</g>
</svg>
